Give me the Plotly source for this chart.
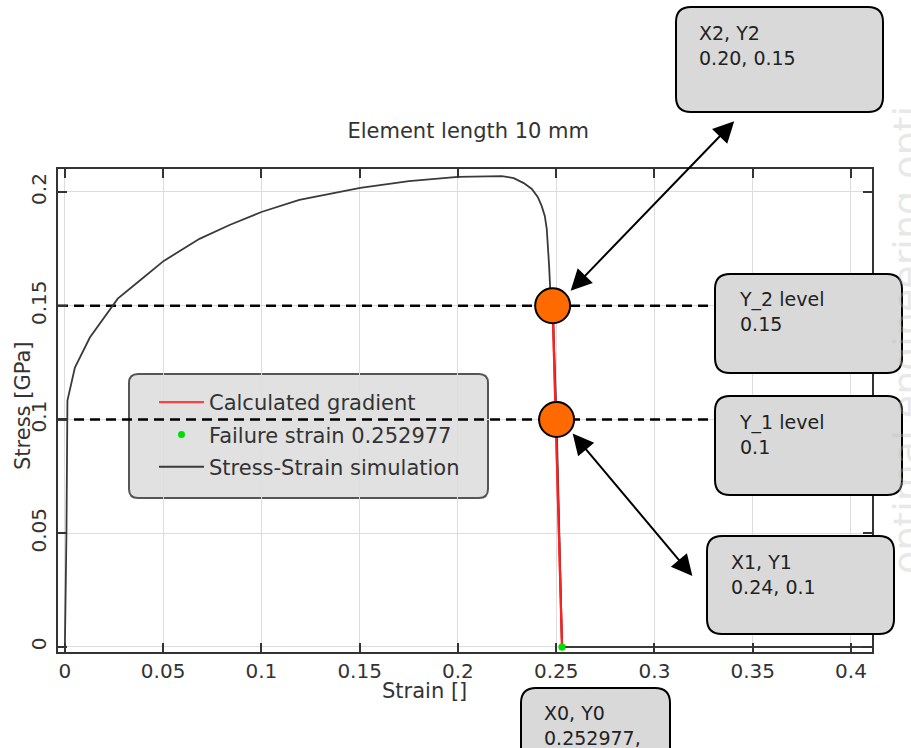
import plotly.graph_objects as go

# ---- data -------------------------------------------------------------
strain = [0.0, 0.0008, 0.0013, 0.0051, 0.0127, 0.0269, 0.038, 0.0503,
          0.0685, 0.0838, 0.1, 0.1193, 0.1503, 0.1751, 0.2, 0.2132, 0.2223,
          0.2284, 0.2335, 0.2376, 0.2406, 0.2426, 0.2442, 0.2452, 0.2459,
          0.2464, 0.2470, 0.2482, 0.2502, 0.252977, 0.3, 0.35, 0.41]
stress = [0.0, 0.05, 0.1083, 0.1228, 0.136, 0.1531, 0.161, 0.1697, 0.1794,
          0.1855, 0.1912, 0.1965, 0.2018, 0.2048, 0.2066, 0.2070, 0.2070,
          0.2061, 0.2039, 0.2013, 0.1978, 0.1939, 0.1895, 0.1838, 0.1763,
          0.1675, 0.1566, 0.15, 0.1, 0.0, 0.0, 0.0, 0.0]

gradient_x = [0.2482, 0.252977]
gradient_y = [0.15, 0.0]

failure_strain = 0.252977
failure_stress = 0.0

level_points_x = [0.2482, 0.2502]
level_points_y = [0.15, 0.1]
y_levels = [0.15, 0.1]

x_ticks = [0, 0.05, 0.1, 0.15, 0.2, 0.25, 0.3, 0.35, 0.4]
x_tick_text = ["0", "0.05", "0.1", "0.15", "0.2", "0.25", "0.3", "0.35", "0.4"]
y_ticks = [0, 0.05, 0.1, 0.15, 0.2]
y_tick_text = ["0", "0.05", "0.1", "0.15", "0.2"]

box_texts = [
    "X2, Y2<br>0.20, 0.15",
    "Y_2 level<br>0.15",
    "Y_1 level<br>0.1",
    "X1, Y1<br>0.24, 0.1",
    "X0, Y0<br>0.252977,",
]

X_RANGE = [-0.0035, 0.4107]
Y_RANGE = [-0.0022, 0.2101]

# ---- page geometry (pixels) -------------------------------------------
W, H = 911, 748
PL, PR, PT, PB = 58, 872, 169, 652
FONT = "DejaVu Sans"
TXT = "#333333"


def px(xp, yp):
    """pixel position -> paper coordinates"""
    return (xp - PL) / (PR - PL), (PB - yp) / (PB - PT)


def rounded_rect(x0, y0, x1, y1, r):
    """rounded rectangle path in paper coordinates from pixel corners"""
    ax0, ay0 = px(x0, y0)
    ax1, ay1 = px(x1, y1)
    rx = r / (PR - PL)
    ry = r / (PB - PT)
    return (f"M{ax0 + rx},{ay0} L{ax1 - rx},{ay0} Q{ax1},{ay0} {ax1},{ay0 - ry} "
            f"L{ax1},{ay1 + ry} Q{ax1},{ay1} {ax1 - rx},{ay1} "
            f"L{ax0 + rx},{ay1} Q{ax0},{ay1} {ax0},{ay1 + ry} "
            f"L{ax0},{ay0 - ry} Q{ax0},{ay0} {ax0 + rx},{ay0} Z")


fig = go.Figure()

# dashed stress levels
for lv in y_levels:
    fig.add_trace(go.Scatter(
        x=X_RANGE, y=[lv, lv], mode="lines",
        line=dict(color="black", width=2.4, dash="10px,6px"),
        showlegend=False, hoverinfo="skip"))

fig.add_trace(go.Scatter(
    x=gradient_x, y=gradient_y, mode="lines",
    line=dict(color="#ff4040", width=2.2),
    name="Calculated gradient", legendgroup="a"))
fig.add_trace(go.Scatter(
    x=[failure_strain], y=[failure_stress], mode="markers",
    marker=dict(color="#00dd00", size=7),
    name="Failure strain 0.252977", legendgroup="b"))
fig.add_trace(go.Scatter(
    x=strain, y=stress, mode="lines",
    line=dict(color="#3a3a3a", width=1.8),
    name="Stress-Strain simulation", legendgroup="c"))
# gradient and failure point on top of the curve
fig.add_trace(go.Scatter(
    x=gradient_x, y=gradient_y, mode="lines",
    line=dict(color="#ff2020", width=2.2), showlegend=False))
fig.add_trace(go.Scatter(
    x=[failure_strain], y=[failure_stress], mode="markers",
    marker=dict(color="#00dd00", size=7), showlegend=False))
fig.add_trace(go.Scatter(
    x=level_points_x, y=level_points_y, mode="markers",
    marker=dict(color="#ff6a00", size=35, line=dict(color="black", width=2)),
    showlegend=False))

shapes = []
# semi-transparent legend panel
shapes.append(dict(type="path", path=rounded_rect(129, 374, 488, 498, 9),
                   xref="paper", yref="paper", layer="between",
                   fillcolor="rgba(212,212,212,0.7)",
                   line=dict(color="#555555", width=2)))
# callout boxes
boxes = [(676, 7, 883, 112), (715, 274, 902, 373), (715, 396, 902, 495),
         (707, 536, 894, 634), (521, 688, 670, 790)]
for (x0, y0, x1, y1) in boxes:
    shapes.append(dict(type="path", path=rounded_rect(x0, y0, x1, y1, 15),
                       xref="paper", yref="paper", layer="above",
                       fillcolor="#d9d9d9",
                       line=dict(color="black", width=2)))

annotations = []

# faint vertical watermark along the right edge
wx, wy = px(883, 104)
annotations.append(dict(x=wx, y=wy, xref="paper", yref="paper",
                        text="optimal engineering opti", showarrow=False,
                        textangle=-90, xanchor="left", yanchor="top",
                        font=dict(family=FONT, size=38,
                                  color="rgba(190,190,190,0.35)")))

text_pos = [(697, 45), (737, 311), (737, 434), (729, 574), (542, 725)]
for (tx, ty), t in zip(text_pos, box_texts):
    ax_, ay_ = px(tx, ty)
    annotations.append(dict(x=ax_, y=ay_, xref="paper", yref="paper",
                            text=t, showarrow=False, xanchor="left",
                            yanchor="middle", align="left",
                            font=dict(family=FONT, size=19, color="#222222")))


def data_xy(xp, yp):
    return (xp - 65) / 1970, (647 - yp) / 2280


# double-headed arrows between points and callouts
for (hx, hy), (tx, ty) in [((572, 290), (737, 119)), ((574, 433), (695, 577))]:
    dx, dy = data_xy(hx, hy)
    annotations.append(dict(x=dx, y=dy, xref="x", yref="y",
                            ax=tx - hx, ay=ty - hy, axref="pixel", ayref="pixel",
                            text="", showarrow=True, arrowside="end+start",
                            arrowhead=2, startarrowhead=2,
                            arrowsize=2.1, startarrowsize=2.1,
                            arrowwidth=2, arrowcolor="black",
                            standoff=0, startstandoff=0))

# axis titles
sx, sy = px(424, 691)
annotations.append(dict(x=sx, y=sy, xref="paper", yref="paper", text="Strain []",
                        showarrow=False, xanchor="center", yanchor="middle",
                        font=dict(family=FONT, size=21, color=TXT)))
sx, sy = px(23, 406)
annotations.append(dict(x=sx, y=sy, xref="paper", yref="paper", text="Stress [GPa]",
                        showarrow=False, textangle=-90, xanchor="center",
                        yanchor="middle",
                        font=dict(family=FONT, size=21, color=TXT)))

fig.update_layout(
    width=W, height=H,
    margin=dict(l=PL, r=W - PR, t=PT, b=H - PB, pad=0),
    paper_bgcolor="white", plot_bgcolor="white",
    font=dict(family=FONT, color=TXT, size=20),
    title=dict(text="Element length 10 mm", x=0.504, xref="paper",
               xanchor="center", y=1 - 131 / H, yref="container",
               yanchor="middle", font=dict(family=FONT, size=21, color=TXT)),
    showlegend=True,
    legend=dict(x=px(154, 0)[0], y=px(0, 382)[1], xanchor="left", yanchor="top",
                bgcolor="rgba(0,0,0,0)", borderwidth=0,
                font=dict(family=FONT, size=21, color=TXT),
                traceorder="grouped", tracegroupgap=2, itemwidth=45),
    shapes=shapes,
    annotations=annotations,
)

axis_common = dict(
    showgrid=True, gridcolor="#dddddd", gridwidth=1,
    showline=True, linecolor="#333333", linewidth=2, mirror="ticks",
    ticks="inside", ticklen=9, tickwidth=1.5, tickcolor="#333333",
    zeroline=False,
    tickfont=dict(family=FONT, size=20, color=TXT),
)

fig.update_xaxes(range=X_RANGE, tickvals=x_ticks, ticktext=x_tick_text,
                 ticklabelstandoff=0, **axis_common)
fig.update_yaxes(range=Y_RANGE, tickvals=y_ticks, ticktext=y_tick_text,
                 tickangle=-90, ticklabelstandoff=2, **axis_common)

fig.write_html("out.html")
